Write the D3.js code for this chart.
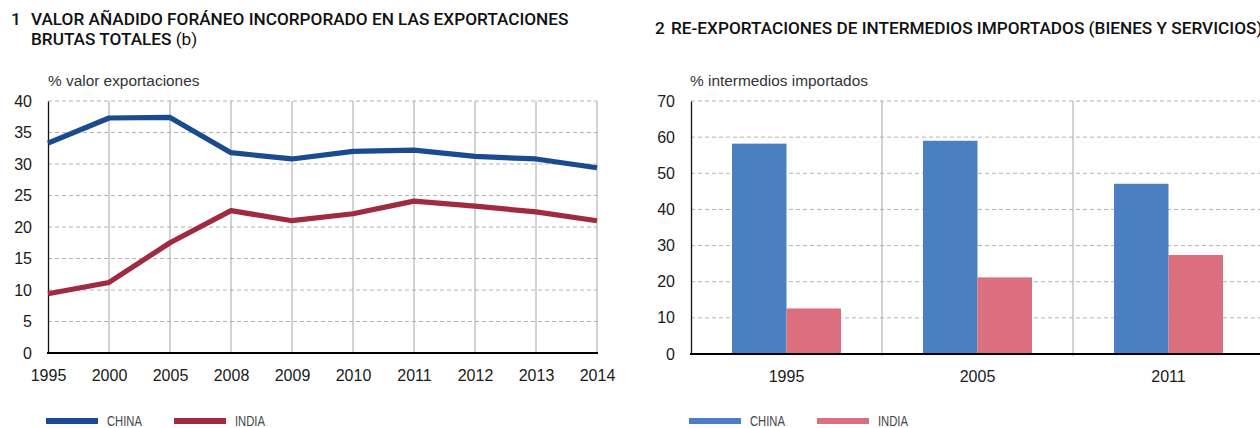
<!DOCTYPE html>
<html>
<head>
<meta charset="utf-8">
<script src="https://cdn.jsdelivr.net/npm/d3@7"></script>
<style>
  body { margin: 0; background: #fff; }
  svg { display: block; }
  text { font-family: "Liberation Sans", Arial, sans-serif; fill: #1a1a1a; }
  .title { font-family: Roboto, "Liberation Sans", sans-serif; font-size: 17.2px; font-weight: 500; fill: #111; }
  .title tspan.normal { font-weight: normal; }
  .unit { font-size: 15.4px; fill: #333; }
  .tick text { font-size: 16px; }
  .legend text { font-size: 14px; fill: #444; }
</style>
</head>
<body>
<div class="chart"></div>
<script>
var width = 1260;
var height = 428;

// panel 1 data
var years = ['1995','2000','2005','2008','2009','2010','2011','2012','2013','2014'];
var chinaVA = [33.3, 37.3, 37.4, 31.8, 30.8, 32.0, 32.2, 31.2, 30.8, 29.4];
var indiaVA = [9.4, 11.2, 17.5, 22.6, 21.0, 22.1, 24.1, 23.3, 22.4, 21.0];
var ticks1 = [0, 5, 10, 15, 20, 25, 30, 35, 40];

// panel 2 data
var barYears = ['1995','2005','2011'];
var chinaRe = [58.2, 59.0, 47.1];
var indiaRe = [12.6, 21.2, 27.4];
var ticks2 = [0, 10, 20, 30, 40, 50, 60, 70];

var series = ['CHINA', 'INDIA'];
var lineColors = ['#1b4b8f', '#a02b41'];
var barColors = ['#4a80c2', '#db6f7f'];

var svg = d3.select('.chart')
  .append('svg')
  .attr('width', width)
  .attr('height', height);

function dashedGrid(g, y, ticks, x0, x1) {
  g.selectAll('.hgrid')
    .data(ticks.filter(function(t){ return t > 0; }))
    .enter().append('line')
    .attr('x1', x0).attr('x2', x1)
    .attr('y1', function(d){ return y(d); })
    .attr('y2', function(d){ return y(d); })
    .attr('stroke', '#b3b3b3')
    .attr('stroke-dasharray', '4,3');
}

function yAxis(g, y, ticks, xpos) {
  var ax = g.append('g')
    .attr('transform', 'translate(' + xpos + ',0)')
    .call(d3.axisLeft(y).tickValues(ticks).tickSize(0).tickPadding(16));
  ax.select('.domain').attr('stroke', '#111').attr('stroke-width', 1.3);
}

// ---------- panel 1: lines ----------
var p1 = svg.append('g');

var t1 = p1.append('text').attr('class', 'title').attr('y', 25);
t1.append('tspan').attr('x', 11).text('1');
t1.append('tspan').attr('x', 31).text('VALOR AÑADIDO FORÁNEO INCORPORADO EN LAS EXPORTACIONES');
var t2 = p1.append('text').attr('class', 'title').attr('x', 31).attr('y', 45);
t2.append('tspan').text('BRUTAS TOTALES ');
t2.append('tspan').attr('class', 'normal').text('(b)');

p1.append('text').attr('class', 'unit').attr('x', 48).attr('y', 86).text('% valor exportaciones');

var x1 = d3.scalePoint().domain(years).range([48, 597]);
var y1 = d3.scaleLinear().domain([0, 40]).range([353, 101]);

dashedGrid(p1, y1, ticks1, 48, 597);

p1.selectAll('.vgrid')
  .data(years.slice(1))
  .enter().append('line')
  .attr('x1', function(d){ return x1(d); })
  .attr('x2', function(d){ return x1(d); })
  .attr('y1', y1(40)).attr('y2', y1(0))
  .attr('stroke', '#a6a6a6');

yAxis(p1, y1, ticks1, 48);

var xa1 = p1.append('g')
  .attr('transform', 'translate(0,' + y1(0) + ')')
  .call(d3.axisBottom(x1).tickSize(0).tickPadding(17));
xa1.select('.domain').remove();
p1.append('line').attr('x1', 47).attr('x2', 598)
  .attr('y1', y1(0)).attr('y2', y1(0))
  .attr('stroke', '#000').attr('stroke-width', 2);

var line = d3.line()
  .x(function(d, i){ return x1(years[i]); })
  .y(function(d){ return y1(d); });

[chinaVA, indiaVA].forEach(function(s, i){
  p1.append('path')
    .attr('d', line(s))
    .attr('fill', 'none')
    .attr('stroke', lineColors[i])
    .attr('stroke-width', 5.2)
    .attr('stroke-linejoin', 'round');
});

// ---------- panel 2: bars ----------
var p2 = svg.append('g');

var t3 = p2.append('text').attr('class', 'title').attr('y', 34);
t3.append('tspan').attr('x', 655).text('2');
t3.append('tspan').attr('x', 671).text('RE-EXPORTACIONES DE INTERMEDIOS IMPORTADOS (BIENES Y SERVICIOS)');

p2.append('text').attr('class', 'unit').attr('x', 690).attr('y', 86).text('% intermedios importados');

var x2 = d3.scaleBand().domain(barYears).range([691, 1264]);
var xs = d3.scaleBand().domain(series).range([41, 150]);
var y2 = d3.scaleLinear().domain([0, 70]).range([354, 101]);

dashedGrid(p2, y2, ticks2, 691, 1264);

p2.selectAll('.sep')
  .data(barYears.slice(1))
  .enter().append('line')
  .attr('x1', function(d){ return x2(d); })
  .attr('x2', function(d){ return x2(d); })
  .attr('y1', y2(70)).attr('y2', y2(0) + 2)
  .attr('stroke', '#a6a6a6');

var rows = barYears.map(function(yr, i){
  return { year: yr, vals: [chinaRe[i], indiaRe[i]] };
});

var groups = p2.selectAll('.grp')
  .data(rows)
  .enter().append('g')
  .attr('transform', function(d){ return 'translate(' + x2(d.year) + ',0)'; });

groups.selectAll('rect')
  .data(function(d){ return d.vals; })
  .enter().append('rect')
  .attr('x', function(d, i){ return xs(series[i]); })
  .attr('width', xs.bandwidth())
  .attr('y', function(d){ return y2(d); })
  .attr('height', function(d){ return y2(0) - y2(d); })
  .attr('fill', function(d, i){ return barColors[i]; });

yAxis(p2, y2, ticks2, 691);

var xa2 = p2.append('g')
  .attr('transform', 'translate(0,' + y2(0) + ')')
  .call(d3.axisBottom(x2).tickSize(0).tickPadding(17));
xa2.select('.domain').remove();
p2.append('line').attr('x1', 690).attr('x2', 1264)
  .attr('y1', y2(0)).attr('y2', y2(0))
  .attr('stroke', '#000').attr('stroke-width', 2);

// ---------- legends ----------
function legend(x0, colors) {
  var lg = svg.append('g').attr('class', 'legend').attr('transform', 'translate(' + x0 + ',421)');
  var items = lg.selectAll('g')
    .data(series)
    .enter().append('g')
    .attr('transform', function(d, i){ return 'translate(' + (i * 128) + ',0)'; });
  items.append('line')
    .attr('x1', 0).attr('x2', 52)
    .attr('stroke', function(d, i){ return colors[i]; })
    .attr('stroke-width', 6);
  // condensed look of the original legend font
  items.append('text')
    .attr('x', 61).attr('y', 5)
    .attr('textLength', function(d){ return d === 'CHINA' ? 35 : 30; })
    .attr('lengthAdjust', 'spacingAndGlyphs')
    .text(function(d){ return d; });
}
legend(46, lineColors);
legend(689, barColors);
</script>
</body>
</html>
